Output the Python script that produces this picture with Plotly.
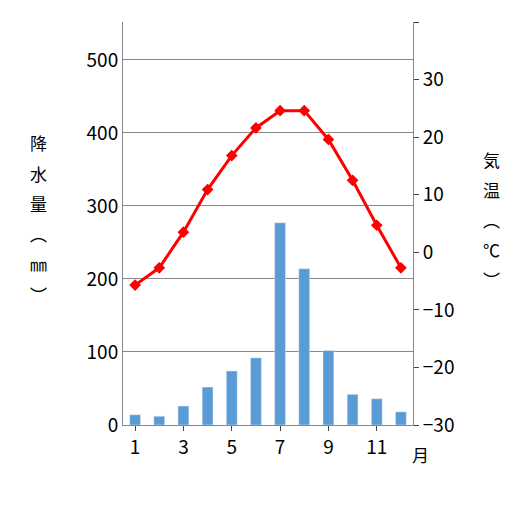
import plotly.graph_objects as go

months = list(range(1, 13))
precip = [14, 12, 26, 52, 74, 92, 277, 214, 102, 42, 36, 18]
temp = [-5.7, -2.7, 3.5, 10.9, 16.8, 21.6, 24.6, 24.6, 19.6, 12.5, 4.7, -2.7]
left_title = ["降", "水", "量", "︵", "㎜", "︶"]
right_title = ["気", "温", "︵", "℃", "︶"]
F = "Noto Sans CJK JP"

fig = go.Figure()
fig.add_trace(go.Bar(x=months, y=precip, marker_color="#5b9bd5", width=0.45, yaxis="y"))
fig.add_trace(go.Scatter(x=months, y=temp, yaxis="y2", mode="lines+markers",
                         line=dict(color="#ff0000", width=3),
                         marker=dict(symbol="diamond", size=9, color="#ff0000")))
ann = []
for i, ch in enumerate(left_title):
    ann.append(dict(text=ch, xref="paper", yref="paper", x=-0.29, y=0.70 - i * 0.075,
                    showarrow=False, font=dict(size=17), xanchor="center", yanchor="middle"))
for i, ch in enumerate(right_title):
    ann.append(dict(text=ch, xref="paper", yref="paper", x=1.27, y=0.66 - i * 0.075,
                    showarrow=False, font=dict(size=17), xanchor="center", yanchor="middle"))
ann.append(dict(text="月", xref="paper", yref="paper", x=0.99, y=-0.11, showarrow=False,
                font=dict(size=17), xanchor="left"))
fig.update_layout(
    width=527, height=522, showlegend=False, plot_bgcolor="white", paper_bgcolor="white",
    margin=dict(l=115, r=122, t=14, b=105),
    font=dict(family=F, size=19, color="#000"),
    xaxis=dict(range=[0.5, 12.5], tickvals=[1, 3, 5, 7, 9, 11], ticks="outside", ticklen=5,
               showline=True, linecolor="#888", showgrid=False),
    yaxis=dict(range=[0, 552], tickvals=[0, 100, 200, 300, 400, 500], showgrid=True,
               gridcolor="#888", showline=True, linecolor="#888", zeroline=False),
    yaxis2=dict(range=[-30, 40], dtick=10, overlaying="y", side="right", showgrid=False,
                showline=True, linecolor="#888", ticks="outside", ticklen=5, zeroline=False),
    annotations=ann,
)
fig.write_html("out.html")
